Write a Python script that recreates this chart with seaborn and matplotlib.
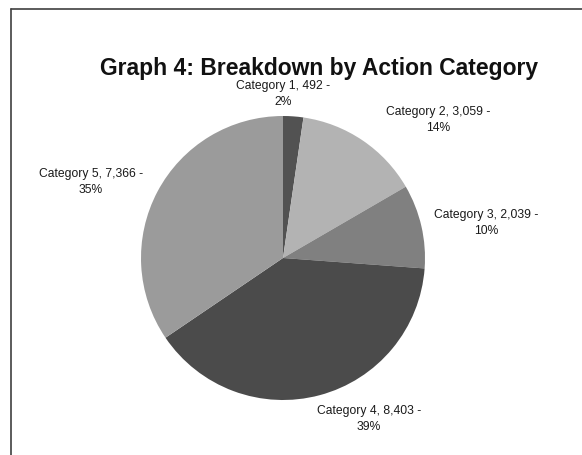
import numpy as np
import seaborn as sns
import matplotlib
matplotlib.use('Agg')
import matplotlib.pyplot as plt
from matplotlib.lines import Line2D

categories = ['Category 1', 'Category 2', 'Category 3', 'Category 4', 'Category 5']
counts = [492, 3059, 2039, 8403, 7366]
count_labels = ['492', '3,059', '2,039', '8,403', '7,366']
pct_labels = ['2%', '14%', '10%', '39%', '35%']

colors = ['#525252', '#b3b3b3', '#808080', '#4b4b4b', '#9b9b9b']
# label placement tweaks (degrees off wedge middle, distance in radii)
label_nudge = [4.1, -14.3, -3.2, 13.1, 6.4]
label_dist = [1.155, 1.462, 1.451, 1.287, 1.454]

sns.set_style('white')
plt.rcParams['font.family'] = ['Liberation Sans', 'DejaVu Sans']

fig = plt.figure(figsize=(5.82, 4.55), dpi=100)
ax = fig.add_axes([0, 0, 1, 1])

wedges, _ = ax.pie(counts, colors=colors, startangle=90, counterclock=False,
                   radius=1, wedgeprops={'linewidth': 0})

for w, cat, c, p, nd, d in zip(wedges, categories, count_labels, pct_labels,
                               label_nudge, label_dist):
    mid = np.deg2rad((w.theta1 + w.theta2) / 2 + nd)
    ax.text(d * np.cos(mid), d * np.sin(mid), '{0}, {1} -\n{2}'.format(cat, c, p),
            ha='center', va='center', fontsize=8.7, color='#1a1a1a', linespacing=1.45)

ax.set_xlim(-283 / 142, (582 - 283) / 142)
ax.set_ylim(-(455 - 258) / 142, 258 / 142)
ax.set_aspect('equal')
ax.axis('off')

fig.text(319 / 582, 1 - 68 / 455, 'Graph 4: Breakdown by Action Category',
         ha='center', va='center', fontsize=16.5, fontweight='bold', color='#111111')

# frame lines (top and left)
fig.add_artist(Line2D([11 / 582, 1], [1 - 9 / 455] * 2, color='#404040', lw=1.2))
fig.add_artist(Line2D([11 / 582] * 2, [0, 1 - 9 / 455], color='#404040', lw=1.2))

fig.savefig('out.png', dpi=100)
